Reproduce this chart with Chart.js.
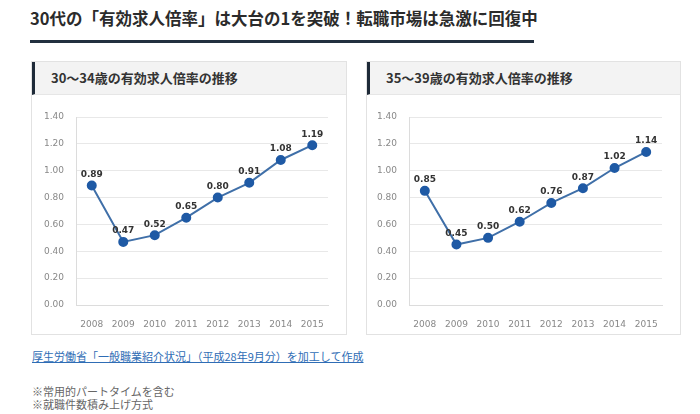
<!DOCTYPE html>
<html lang="ja">
<head>
<meta charset="utf-8">
<script src="https://cdn.jsdelivr.net/npm/chart.js@4.4.0/dist/chart.umd.min.js"></script>
<style>
  body { margin: 0; width: 700px; height: 414px; background: #fff; position: relative; overflow: hidden;
         font-family: "Noto Sans CJK JP", sans-serif; }
  .title { position: absolute; left: 30px; top: 6px; font-size: 16.5px; font-weight: bold; color: #2b2b2b; white-space: nowrap; letter-spacing: 0; }
  .rule { position: absolute; left: 30px; top: 40px; width: 504px; height: 3px; background: #22303f; }
  .panel { position: absolute; top: 61px; height: 272px; border: 1px solid #e2e2e2; background: #fff; }
  .panel .head { height: 32px; background: #f3f3f3; border-left: 3px solid #1e2a38; border-bottom: 1px solid #e6e6e6;
                 font-size: 13px; font-weight: bold; color: #333; line-height: 32px; padding-left: 16px; }
  canvas { position: absolute; }
  .src { position: absolute; left: 32px; top: 348px; font-size: 11px; color: #2f6db5; text-decoration: underline; white-space: nowrap; }
  .note { position: absolute; left: 32px; font-size: 11px; color: #666; white-space: nowrap; }
</style>
</head>
<body>
<div class="title">30代の「有効求人倍率」は大台の1を突破！転職市場は急激に回復中</div>
<div class="rule"></div>

<div class="panel" style="left:31px; width:314px;"><div class="head">30～34歳の有効求人倍率の推移</div></div>
<div class="panel" style="left:366px; width:313px;"><div class="head">35～39歳の有効求人倍率の推移</div></div>

<canvas id="chart-left" width="314" height="238" style="left:32px; top:96px;"></canvas>
<canvas id="chart-right" width="313" height="238" style="left:367px; top:96px;"></canvas>

<div class="src">厚生労働省「一般職業紹介状況」（平成28年9月分）を加工して作成</div>
<div class="note" style="top:383px;">※常用的パートタイムを含む</div>
<div class="note" style="top:396px;">※就職件数積み上げ方式</div>

<script>
// データ
const years = ['2008', '2009', '2010', '2011', '2012', '2013', '2014', '2015'];
const ratio30to34 = [0.89, 0.47, 0.52, 0.65, 0.80, 0.91, 1.08, 1.19];
const ratio35to39 = [0.85, 0.45, 0.50, 0.62, 0.76, 0.87, 1.02, 1.14];
const yMin = 0;
const yMax = 1.4;
const yStep = 0.2;

// 点の上に値を描く
const valueLabels = {
  id: 'valueLabels',
  afterDatasetsDraw(chart) {
    const ctx = chart.ctx;
    const meta = chart.getDatasetMeta(0);
    const data = chart.data.datasets[0].data;
    ctx.save();
    ctx.font = 'bold 9px "DejaVu Sans", sans-serif';
    ctx.fillStyle = '#333';
    ctx.textAlign = 'center';
    ctx.textBaseline = 'middle';
    meta.data.forEach((pt, i) => {
      ctx.fillText(data[i].toFixed(2), pt.x, pt.y - 11);
    });
    ctx.restore();
  }
};

function makeChart(id, values, padLeft) {
  const ctx = document.getElementById(id).getContext('2d');
  return new Chart(ctx, {
    type: 'line',
    data: {
      labels: years,
      datasets: [{
        data: values,
        borderColor: '#3f6fa8',
        borderWidth: 2,
        pointBackgroundColor: '#1f5aa5',
        pointBorderColor: '#1f5aa5',
        pointRadius: 4,
        tension: 0,
        fill: false
      }]
    },
    options: {
      responsive: false,
      animation: false,
      layout: { padding: { left: padLeft, right: 18, top: 21, bottom: 7 } },
      plugins: { legend: { display: false }, tooltip: { enabled: false } },
      scales: {
        x: {
          offset: true,
          grid: { display: false },
          border: { display: true, color: '#dcdcdc' },
          ticks: { color: '#888', font: { family: 'DejaVu Sans', size: 9 }, padding: 6, maxRotation: 0 },
          afterFit: s => { s.height = 22; }
        },
        y: {
          min: yMin,
          max: yMax,
          grid: { color: '#e8e8e8', drawTicks: false },
          border: { display: true, color: '#dcdcdc' },
          ticks: { stepSize: yStep, color: '#888', font: { family: 'DejaVu Sans', size: 9 }, padding: 12,
                   callback: v => v.toFixed(2) },
          afterFit: s => { s.width = 36; }
        }
      }
    },
    plugins: [valueLabels]
  });
}

makeChart('chart-left', ratio30to34, 8);
makeChart('chart-right', ratio35to39, 6);
</script>
</body>
</html>
